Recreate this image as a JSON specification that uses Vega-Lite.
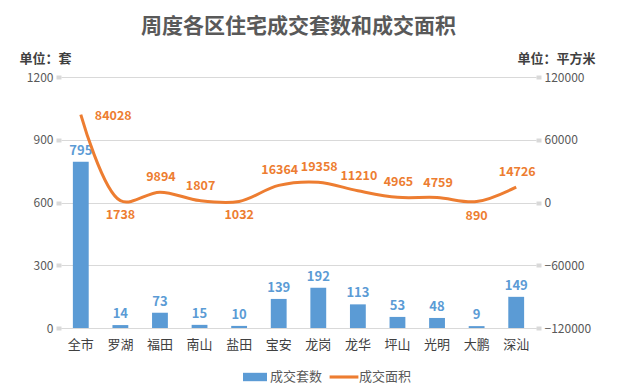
{
  "$schema": "https://vega.github.io/schema/vega-lite/v6.json",
  "width": 475,
  "height": 251,
  "autosize": {"type": "none"},
  "padding": {"left": 61, "top": 77, "right": 99, "bottom": 61},
  "background": "white",
  "title": {
    "text": "周度各区住宅成交套数和成交面积",
    "font": "Noto Sans CJK SC",
    "fontSize": 21,
    "fontWeight": "bold",
    "color": "#595959",
    "anchor": "middle",
    "offset": 15
  },
  "config": {
    "view": {"stroke": null},
    "font": "Noto Sans CJK SC",
    "axis": {"labelFont": "Noto Sans CJK SC", "titleFont": "Noto Sans CJK SC"}
  },
  "data": {
    "values": [
      {"district": "全市", "units": 795, "area": 84028},
      {"district": "罗湖", "units": 14, "area": 1738},
      {"district": "福田", "units": 73, "area": 9894},
      {"district": "南山", "units": 15, "area": 1807},
      {"district": "盐田", "units": 10, "area": 1032},
      {"district": "宝安", "units": 139, "area": 16364},
      {"district": "龙岗", "units": 192, "area": 19358},
      {"district": "龙华", "units": 113, "area": 11210},
      {"district": "坪山", "units": 53, "area": 4965},
      {"district": "光明", "units": 48, "area": 4759},
      {"district": "大鹏", "units": 9, "area": 890},
      {"district": "深汕", "units": 149, "area": 14726}
    ]
  },
  "encoding": {
    "x": {
      "field": "district",
      "type": "nominal",
      "sort": null,
      "scale": {"paddingInner": 0.6, "paddingOuter": 0.3},
      "axis": {
        "title": null,
        "labelAngle": 0,
        "labelFontSize": 13,
        "labelColor": "#404040",
        "labelPadding": 10,
        "ticks": false,
        "domainColor": "#D9D9D9"
      }
    }
  },
  "layer": [
    {
      "layer": [
        {
          "mark": {"type": "bar"},
          "encoding": {
            "y": {
              "field": "units",
              "type": "quantitative",
              "scale": {"domain": [0, 1200], "nice": false},
              "axis": {
                "values": [0, 300, 600, 900, 1200],
                "format": "d",
                "title": "单位：套",
                "titleAngle": 0,
                "titleAlign": "center",
                "titleBaseline": "middle",
                "titleX": -16,
                "titleY": -19,
                "titleFontSize": 13,
                "titleFontWeight": "bold",
                "titleColor": "#404040",
                "grid": true,
                "gridColor": "#D9D9D9",
                "domain": false,
                "tickColor": "#D9D9D9",
                "tickSize": 5,
                "tickWidth": 4,
                "labelColor": "#595959",
                "labelFontSize": 12,
                "labelPadding": 3
              }
            },
            "color": {
              "datum": "成交套数",
              "scale": {"domain": ["成交套数", "成交面积"], "range": ["#5B9BD5", "#ED7D31"]},
              "legend": {
                "title": null,
                "orient": "none",
                "legendX": 182,
                "legendY": 288,
                "direction": "horizontal",
                "symbolSize": 576,
                "labelFontSize": 13,
                "labelColor": "#595959",
                "labelOffset": 3,
                "columnPadding": 6,
                "encode": {
                  "symbols": {
                    "update": {
                      "shape": {"signal": "datum.value === '成交面积' ? 'M-1.2,-0.13L1.2,-0.13L1.2,0.13L-1.2,0.13Z' : 'M-1,-0.35L1,-0.35L1,0.35L-1,0.35Z'"},
                      "fill": {"scale": "color", "field": "value"},
                      "stroke": {"value": "transparent"},
                      "strokeWidth": {"value": 0},
                      "opacity": {"value": 1}
                    }
                  }
                }
              }
            }
          }
        },
        {
          "mark": {"type": "text", "dy": -11, "fontSize": 13, "fontWeight": "bold", "color": "#5B9BD5"},
          "encoding": {
            "y": {"field": "units", "type": "quantitative"},
            "text": {"field": "units", "type": "quantitative"}
          }
        }
      ]
    },
    {
      "layer": [
        {
          "mark": {"type": "line", "interpolate": "catmull-rom", "strokeWidth": 3},
          "encoding": {
            "y": {
              "field": "area",
              "type": "quantitative",
              "scale": {"domain": [-120000, 120000], "nice": false},
              "axis": {
                "orient": "right",
                "values": [-120000, -60000, 0, 60000, 120000],
                "format": "d",
                "title": "单位：平方米",
                "titleAngle": 0,
                "titleAlign": "center",
                "titleBaseline": "middle",
                "titleX": 20,
                "titleY": -19,
                "titleFontSize": 13,
                "titleFontWeight": "bold",
                "titleColor": "#404040",
                "grid": false,
                "domain": false,
                "tickColor": "#D9D9D9",
                "tickSize": 5,
                "tickWidth": 4,
                "labelColor": "#595959",
                "labelFontSize": 12,
                "labelPadding": 3
              }
            },
            "color": {"datum": "成交面积"}
          }
        },
        {
          "transform": [{"filter": "indexof(['全市','罗湖','盐田','大鹏'], datum.district) < 0"}],
          "mark": {"type": "text", "dx": 1, "dy": -15, "fontSize": 12.5, "fontWeight": "bold", "color": "#ED7D31"},
          "encoding": {
            "y": {"field": "area", "type": "quantitative"},
            "text": {"field": "area", "type": "quantitative", "format": "d"}
          }
        },
        {
          "transform": [{"filter": "indexof(['罗湖','盐田','大鹏'], datum.district) >= 0"}],
          "mark": {"type": "text", "dy": 14, "fontSize": 12.5, "fontWeight": "bold", "color": "#ED7D31"},
          "encoding": {
            "y": {"field": "area", "type": "quantitative"},
            "text": {"field": "area", "type": "quantitative", "format": "d"}
          }
        },
        {
          "transform": [{"filter": "datum.district === '全市'"}],
          "mark": {"type": "text", "dx": 14, "dy": 1, "align": "left", "fontSize": 12.5, "fontWeight": "bold", "color": "#ED7D31"},
          "encoding": {
            "y": {"field": "area", "type": "quantitative"},
            "text": {"field": "area", "type": "quantitative", "format": "d"}
          }
        }
      ]
    }
  ],
  "resolve": {"scale": {"y": "independent"}}
}
